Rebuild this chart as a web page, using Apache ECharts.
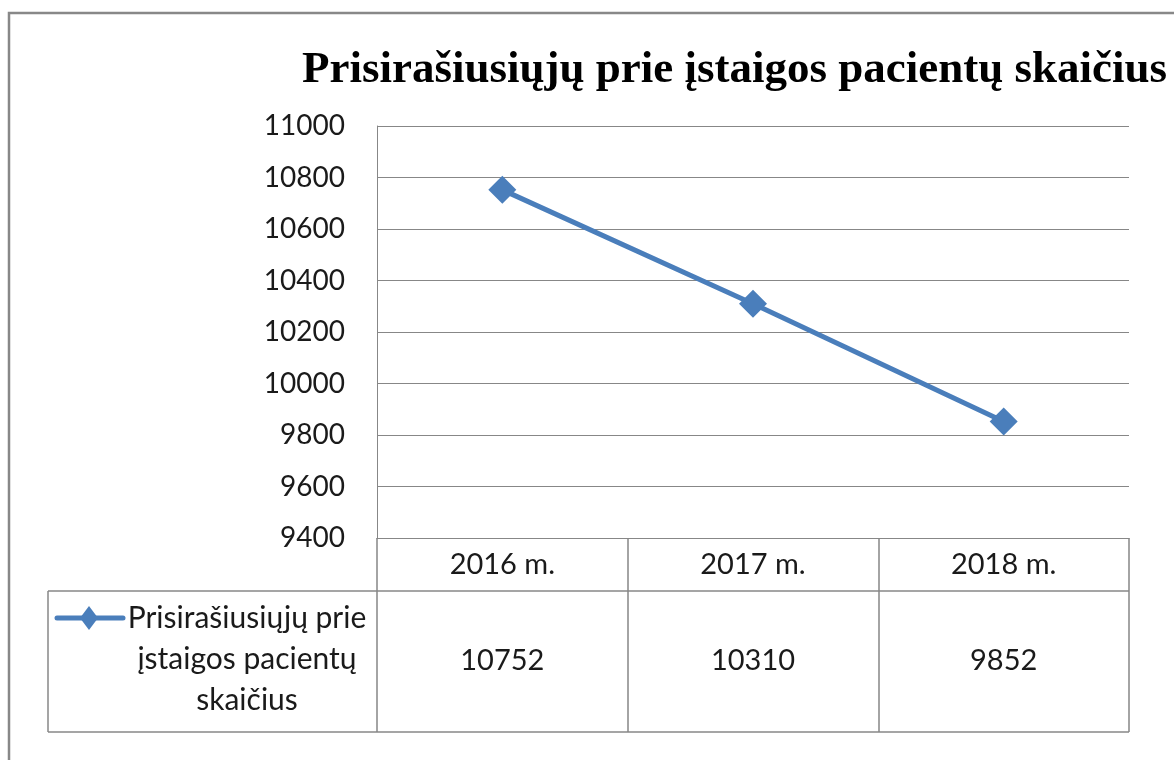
<!DOCTYPE html>
<html>
<head>
<meta charset="utf-8">
<script src="https://cdn.jsdelivr.net/npm/echarts@6/dist/echarts.min.js"></script>
<style>
  html, body { margin: 0; padding: 0; background: #fff; }
  #chart { width: 1174px; height: 760px; }
</style>
</head>
<body>
<div id="chart"></div>
<script>
// chart data
var titleText = 'Prisirašiusiųjų prie įstaigos pacientų skaičius'
var seriesName = 'Prisirašiusiųjų prie įstaigos pacientų skaičius'
var legendLines = ['Prisirašiusiųjų prie', 'įstaigos pacientų', 'skaičius']
var years = ['2016 m.', '2017 m.', '2018 m.']
var patients = [10752, 10310, 9852]
var yMin = 9400
var yMax = 11000
var yStep = 200

var chart = echarts.init(document.getElementById('chart'))

// plot area (pixels)
var gl = 377, gt = 126, gw = 752, gh = 412
var gr = gl + gw, gb = gt + gh
var rowSplit = 591, tableBottom = 732, legendLeft = 48
var lineColor = '#4a7ebb'
var gridColor = '#878787'
var textColor = '#1a1a1a'
var font = 'Lato, "Open Sans", sans-serif'

chart.setOption({
  animation: false,
  title: {
    text: titleText,
    left: 297,
    top: 43,
    textStyle: {
      fontFamily: '"Liberation Serif", "Times New Roman", serif',
      fontWeight: 'bold',
      fontSize: 45,
      color: '#000'
    }
  },
  grid: { left: gl, top: gt, width: gw, height: gh, containLabel: false },
  xAxis: [{
    type: 'category',
    data: years,
    boundaryGap: true,
    axisLine: { lineStyle: { color: gridColor, width: 1 } },
    axisTick: { show: true, length: tableBottom - gb, lineStyle: { color: gridColor, width: 1.5 } },
    axisLabel: {
      margin: 27,
      verticalAlign: 'middle',
      fontFamily: font,
      fontSize: 29,
      color: textColor
    }
  }, {
    // value row of the data table
    type: 'category',
    data: years,
    position: 'bottom',
    boundaryGap: true,
    axisLine: { show: false },
    axisTick: { show: false },
    axisLabel: {
      margin: 123,
      verticalAlign: 'middle',
      fontFamily: font,
      fontSize: 29,
      color: textColor,
      formatter: function (v, i) { return String(patients[i]) }
    }
  }],
  yAxis: {
    type: 'value',
    min: yMin,
    max: yMax,
    interval: yStep,
    axisLine: { show: true, lineStyle: { color: gridColor, width: 1 } },
    axisTick: { show: false },
    splitLine: { lineStyle: { color: gridColor, width: 1 } },
    axisLabel: {
      margin: 32,
      fontFamily: font,
      fontSize: 28,
      color: textColor,
      formatter: function (v) { return String(v) }
    }
  },
  series: [{
    name: seriesName,
    type: 'line',
    data: patients,
    symbol: 'diamond',
    symbolSize: 28,
    lineStyle: { color: lineColor, width: 5 },
    itemStyle: { color: lineColor }
  }],
  graphic: [
    // chart frame
    { type: 'rect', shape: { x: 9, y: 13, width: 1200, height: 800 }, style: { fill: null, stroke: '#888', lineWidth: 2.5 } },
    // data table lines
    { type: 'line', shape: { x1: legendLeft, y1: rowSplit, x2: gr, y2: rowSplit }, style: { stroke: gridColor, lineWidth: 1.5 } },
    { type: 'line', shape: { x1: legendLeft, y1: tableBottom, x2: gr, y2: tableBottom }, style: { stroke: gridColor, lineWidth: 1.5 } },
    { type: 'line', shape: { x1: legendLeft, y1: rowSplit, x2: legendLeft, y2: tableBottom }, style: { stroke: gridColor, lineWidth: 1.5 } },
    // legend key
    { type: 'line', shape: { x1: 57, y1: 618, x2: 123, y2: 618 }, style: { stroke: lineColor, lineWidth: 5, lineCap: 'round' } },
    { type: 'polygon', shape: { points: [[89, 606], [98, 618], [89, 630], [80, 618]] }, style: { fill: lineColor } },
    {
      type: 'text',
      x: 247,
      y: 659,
      style: {
        text: legendLines.join('\n'),
        align: 'center',
        verticalAlign: 'middle',
        lineHeight: 41,
        font: '30px ' + font,
        fill: textColor
      }
    }
  ]
})
</script>
</body>
</html>
